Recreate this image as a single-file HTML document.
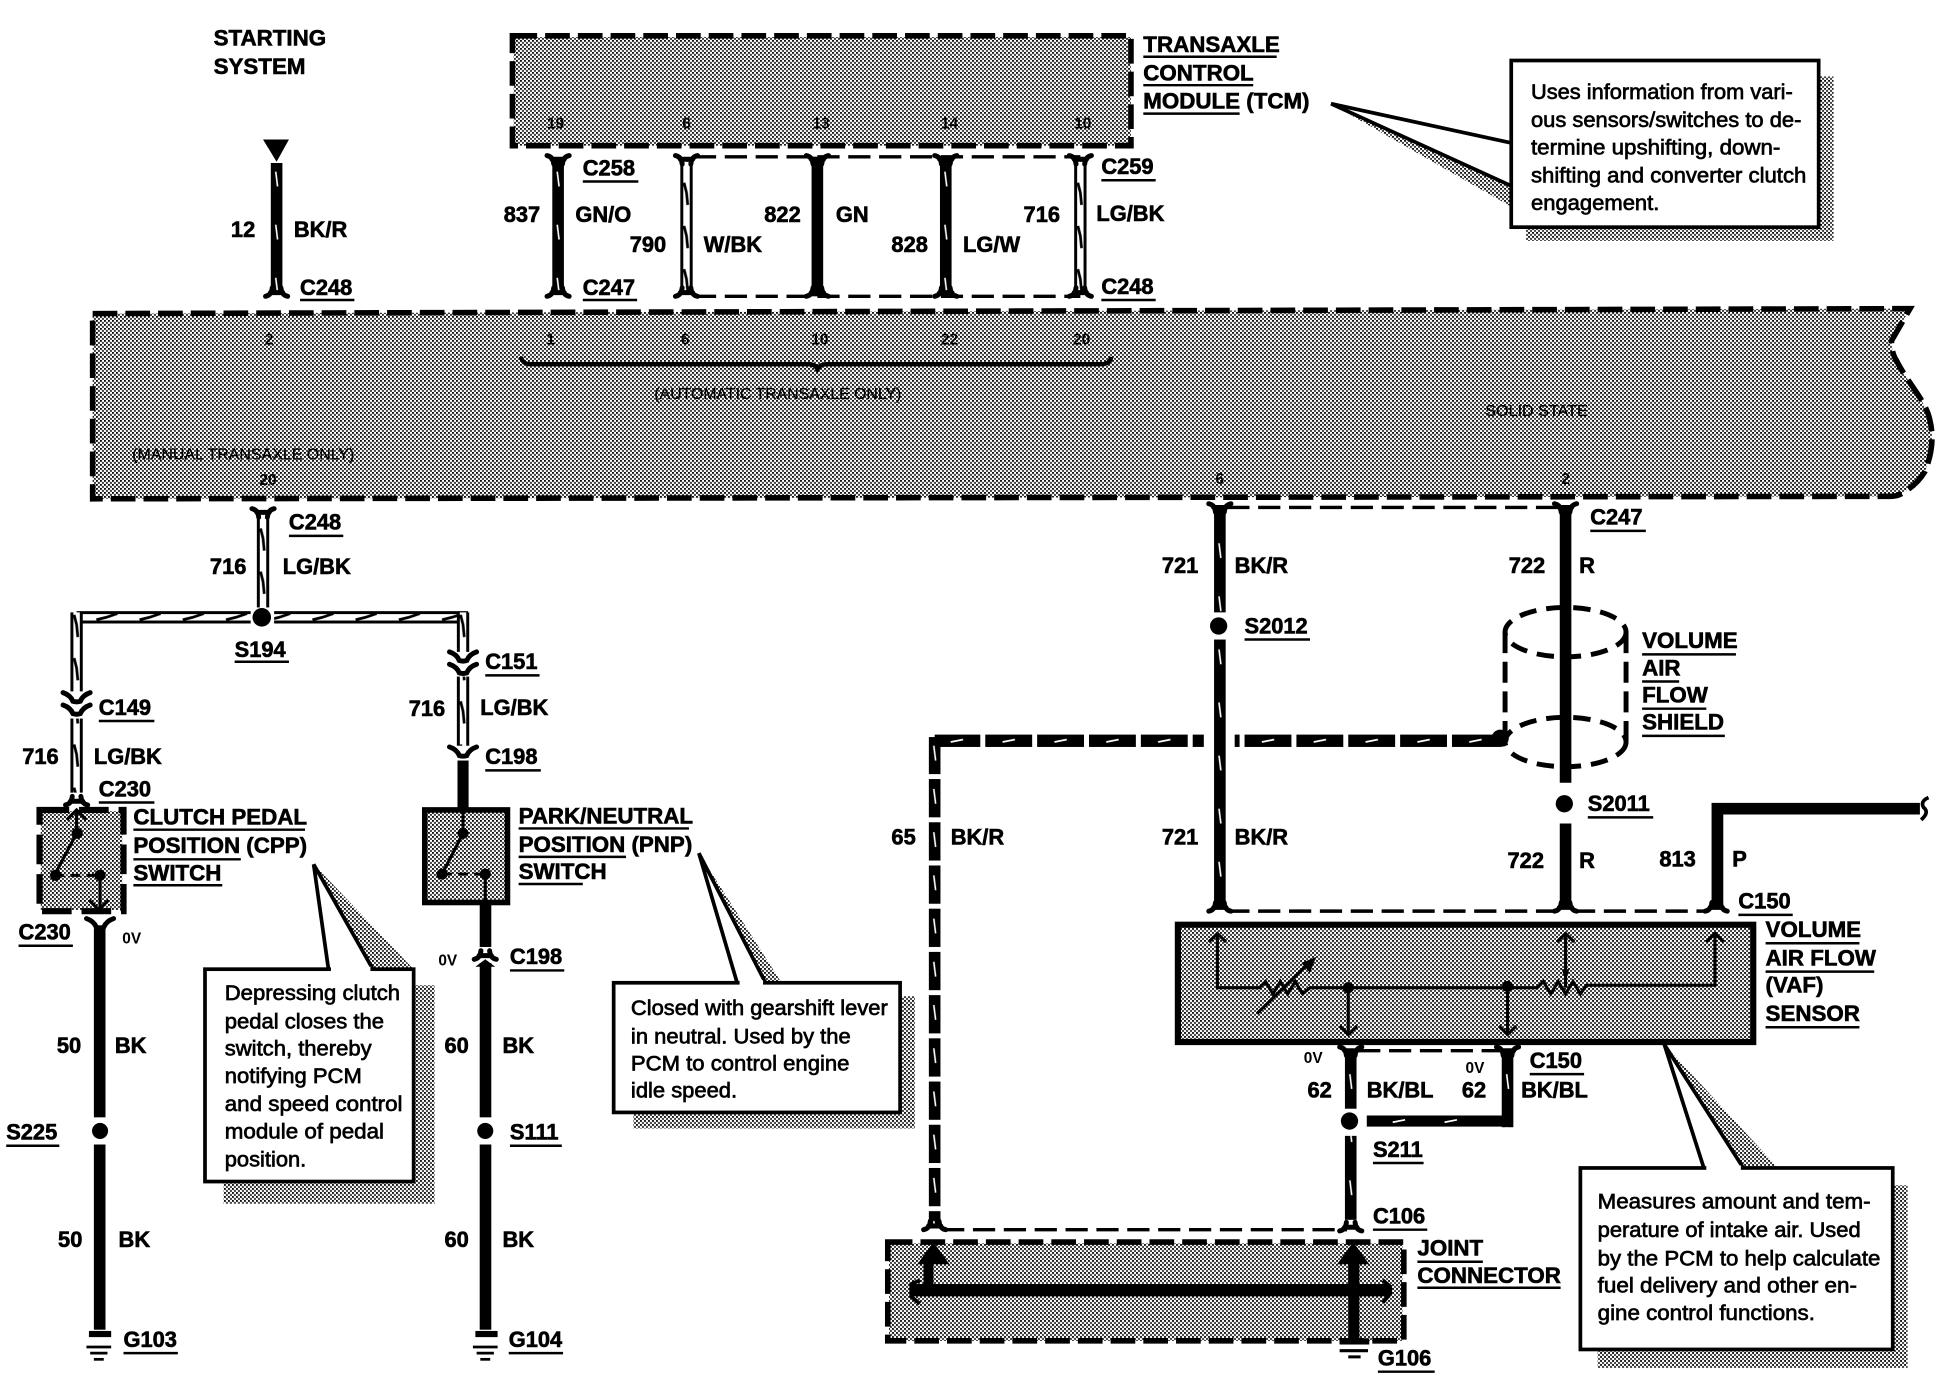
<!DOCTYPE html>
<html><head><meta charset="utf-8"><title>Starting System Diagram</title>
<style>
html,body{margin:0;padding:0;background:#fff}
svg{display:block}
text{font-family:"Liberation Sans",sans-serif;fill:#000}
.b{font-weight:bold;font-size:17.7px;stroke:#000;stroke-width:.5}
.h{font-weight:bold;font-size:18.1px;stroke:#000;stroke-width:.5}
.c{font-size:17px;stroke:#000;stroke-width:.55}
.p{font-weight:bold;font-size:12.5px;text-anchor:middle}
.s{font-size:13px;stroke:#000;stroke-width:.2}
.v{font-weight:bold;font-size:12.5px}
.u{stroke:#000;stroke-width:2;fill:none}
.l{stroke:#000;fill:none}
.d{stroke:#000;fill:none;stroke-width:2.8;stroke-dasharray:18 7}
.D{stroke:#000;fill:none;stroke-width:4.5;stroke-dasharray:20 6.5}
</style></head><body>
<svg xmlns="http://www.w3.org/2000/svg" width="1936" height="1376" viewBox="0 0 1568 1114.5">
<defs>
<pattern id="h" patternUnits="userSpaceOnUse" width="3.24" height="3.24"><rect width="3.24" height="3.24" fill="#fff"/><rect width="1.45" height="1.45" fill="#000"/><rect x="1.62" y="1.62" width="1.45" height="1.45" fill="#000"/></pattern>
<pattern id="vt" patternUnits="userSpaceOnUse" x="-4.7" y="0" width="9.4" height="43"><rect width="9.4" height="43" fill="#000"/><path d="M4,10L5.5,22" stroke="#fff" stroke-width="1.3"/></pattern>
<pattern id="vs" patternUnits="userSpaceOnUse" x="-4.7" y="1" width="9.4" height="35"><rect width="9.4" height="31" fill="#000"/><path d="M4,8L5.5,20" stroke="#fff" stroke-width="1.3"/></pattern>
<pattern id="vh" patternUnits="userSpaceOnUse" x="-5" y="0" width="10" height="35"><rect width="10" height="35" fill="#fff"/><path d="M1.2,0V35M8.8,0V35" stroke="#000" stroke-width="2.4"/><path d="M3,8L5,16L6,26" stroke="#000" stroke-width="2.2" fill="none"/></pattern>
<pattern id="ht" patternUnits="userSpaceOnUse" x="0" y="-5" width="42" height="10"><rect width="38" height="10" fill="#000"/><path d="M14,6L24,4" stroke="#fff" stroke-width="1.4"/><rect x="38" width="4" height="10" fill="#fff"/></pattern>
<pattern id="hh" patternUnits="userSpaceOnUse" x="0" y="-5" width="35" height="10"><rect width="35" height="10" fill="#fff"/><path d="M0,1.2H35M0,8.8H35" stroke="#000" stroke-width="2.4"/><path d="M8,7L16,5L25,2" stroke="#000" stroke-width="2.2" fill="none"/></pattern>
<path id="cup" d="M-9,-4Q-4,-3 -3.500,3M9,-4Q4,-3 3.500,3M-5,-1H5" stroke="#000" stroke-width="4" fill="none" stroke-linecap="round"/>
<path id="cap" d="M-9,4Q-4,3 -3.500,-3M9,4Q4,3 3.500,-3M-5,1H5" stroke="#000" stroke-width="4" fill="none" stroke-linecap="round"/>
<path id="arc" d="M-11,-5Q-5,-3 -3,2Q0,3 3,2Q5,-3 11,-5" stroke="#000" stroke-width="4" fill="none" stroke-linecap="round"/>
<g id="gnd"><path d="M-10,9H10" stroke="#000" stroke-width="2.2"/><path d="M-7,14H7" stroke="#000" stroke-width="2.2"/><path d="M-4,19H4" stroke="#000" stroke-width="2.2"/></g>
</defs>
<rect width="1568" height="1115" fill="#fff"/>

<!-- Halftone blocks -->
<rect x="416" y="30" width="500" height="88" fill="url(#h)"/>
<path d="M75,254L1547,250L1532,276Q1532,286 1536,292C1545,310 1560,325 1563,340Q1568,360 1559,382Q1553,392 1543,398Q1538,402 1531,402L75,404Z" fill="url(#h)"/>
<rect x="33" y="657" width="66" height="80" fill="url(#h)"/>
<rect x="344" y="656" width="67" height="75" fill="url(#h)"/>
<rect x="955" y="750" width="464" height="93" fill="url(#h)"/>
<rect x="720" y="1007" width="416" height="79" fill="url(#h)"/>

<!-- Boxes -->
<rect x="415" y="29" width="501" height="89" class="D"/>
<path d="M75,254L1547,250L1532,276Q1532,286 1536,292C1545,310 1560,325 1563,340Q1568,360 1559,382Q1553,392 1543,398Q1538,402 1531,402L75,404Z" class="D"/>
<rect x="32" y="656" width="68" height="82" stroke="#000" stroke-width="5" fill="none" stroke-dasharray="24 8"/>
<rect x="344" y="656" width="67" height="75" stroke="#000" stroke-width="4.5" fill="none"/>
<rect x="954" y="749" width="466" height="95" stroke="#000" stroke-width="5" fill="none"/>
<rect x="719" y="1006" width="418" height="80" class="D"/>

<!-- TCM wires -->
<path class="d" d="M562,127H875M562,240H875"/>
<g transform="translate(452,0)"><rect x="-4.700" y="130" width="9.400" height="106" fill="url(#vt)"/><use href="#cup" y="130"/><use href="#cap" y="236"/></g>
<g transform="translate(556,0)"><rect x="-5" y="130" width="10" height="106" fill="url(#vh)"/><use href="#cup" y="130"/><use href="#cap" y="236"/></g>
<rect x="657.300" y="127" width="9.400" height="113" fill="#000"/><use href="#cup" x="662" y="130"/><use href="#cap" x="662" y="236"/>
<g transform="translate(766,0)"><rect x="-4.700" y="130" width="9.400" height="106" fill="url(#vt)"/><use href="#cup" y="130"/><use href="#cap" y="236"/></g>
<g transform="translate(875,0)"><rect x="-5" y="130" width="10" height="106" fill="url(#vh)"/><use href="#cup" y="130"/><use href="#cap" y="236"/></g>

<!-- Wire 12 -->
<path d="M213,113H234L224,131Z" fill="#000"/>
<g transform="translate(224,0)"><rect x="-4.700" y="132" width="9.400" height="104" fill="url(#vt)"/><use href="#cap" y="236"/></g>

<!-- Brace -->
<path d="M422,289Q423,295 430,295H655Q660,295 662,299Q664,295 670,295H892Q899,295 900,289" stroke="#000" stroke-width="3.5" fill="none"/>

<!-- 716 LG/BK tree -->
<g transform="translate(213,0)"><rect x="-5" y="416" width="10" height="76" fill="url(#vh)"/><use href="#cup" y="416"/></g>
<g transform="translate(0,500)"><rect x="62" y="-5" width="141" height="10" fill="url(#hh)"/><rect x="222" y="-5" width="157" height="10" fill="url(#hh)"/></g>
<circle cx="212" cy="500" r="7.500" fill="#000"/>
<g transform="translate(62,0)"><rect x="-5" y="496" width="10" height="64" fill="url(#vh)"/><use href="#arc" y="566"/><use href="#arc" y="576"/><rect x="-5" y="582" width="10" height="60" fill="url(#vh)"/><use href="#cap" y="648"/></g>
<g transform="translate(375,0)"><rect x="-5" y="496" width="10" height="32" fill="url(#vh)"/><use href="#arc" y="533"/><use href="#arc" y="543"/><rect x="-5" y="548" width="10" height="56" fill="url(#vh)"/><use href="#arc" y="610"/></g>
<rect x="370.500" y="616" width="9" height="40" fill="#000"/>

<!-- CPP switch internals -->
<path class="l" stroke-width="2.500" d="M62,656V675L44,709M81,709V737M54,664L62,656L70,664M72,729L80,737L88,729"/>
<path class="l" stroke-width="2.500" stroke-dasharray="8 5" d="M44,709H81"/>
<circle cx="62.500" cy="675" r="4.500"/><circle cx="45" cy="709" r="4.500"/><circle cx="81" cy="709" r="4.500"/>
<!-- PNP switch internals -->
<path class="l" stroke-width="2.500" d="M375,656V675L358,708"/><path class="l" stroke-width="2.500" stroke-dasharray="8 5" d="M358,708H393"/><path class="l" stroke-width="2.500" d="M393,708V731"/>
<circle cx="375" cy="675" r="4.500"/><circle cx="358" cy="708" r="4.500"/><circle cx="393" cy="708" r="4.500"/>

<!-- Left grounds -->
<use href="#arc" x="81" y="749"/>
<rect x="76" y="752" width="9.400" height="153" fill="#000"/><circle cx="81" cy="916" r="6.500"/><rect x="76" y="927" width="9.400" height="150" fill="#000"/>
<rect x="72" y="1078" width="18" height="5" fill="#000"/><use href="#gnd" x="80" y="1082"/>
<rect x="388.500" y="731" width="9.400" height="36" fill="#000"/><use href="#cap" x="393" y="773"/><path d="M385,783L393,777L401,783Z" fill="#000"/>
<rect x="388.500" y="780" width="9.400" height="125" fill="#000"/><circle cx="393" cy="916" r="6.500"/><rect x="388.500" y="927" width="9.400" height="150" fill="#000"/>
<rect x="385" y="1078" width="18" height="5" fill="#000"/><use href="#gnd" x="393" y="1082"/>

<!-- Right section -->
<path class="d" d="M994,411H1262M994,738H1262M1274,738H1384"/>
<g transform="translate(988,0)"><rect x="-4.700" y="412" width="9.400" height="84" fill="url(#vt)"/><rect x="-4.700" y="518" width="9.400" height="216" fill="url(#vt)"/><use href="#cup" y="412"/><use href="#cap" y="734"/></g>
<circle cx="987" cy="507" r="7" fill="#000"/>
<rect x="1263.300" y="412" width="9.400" height="222" fill="#000"/><use href="#cup" x="1268" y="412"/>
<circle cx="1267" cy="651" r="7" fill="#000"/>
<rect x="1263.300" y="667" width="9.400" height="68" fill="#000"/><use href="#cap" x="1268" y="734"/>
<path d="M1391,735V655H1555" stroke="#000" stroke-width="9.500" fill="none"/><use href="#cap" x="1390" y="734"/>
<path d="M1562,646Q1555,649 1558,654Q1563,658 1556,664" stroke="#000" stroke-width="3" fill="none"/>

<!-- Shield -->
<g stroke="#000" stroke-width="4" fill="none" stroke-dasharray="14 8">
<ellipse cx="1268" cy="512" rx="49" ry="20"/>
<ellipse cx="1268" cy="601" rx="49" ry="20"/>
<path d="M1219,512V600M1317,512V600" stroke-dasharray="17 7"/>
</g>

<!-- Wire 65 -->
<g transform="translate(0,600)"><rect x="757" y="-5" width="218" height="10" fill="url(#ht)"/><rect x="1000" y="-5" width="214" height="10" fill="url(#ht)"/></g>
<circle cx="1215" cy="598" r="7" fill="#000"/>
<g transform="translate(757,0)"><rect x="-4.700" y="597" width="9.400" height="394" fill="url(#vs)"/><use href="#cap" y="992"/></g>
<path class="d" d="M763,996H1091"/>

<!-- VAF internals -->
<g class="l" stroke-width="2.500">
<path d="M986,756V800H1020L1025,795L1031,805L1037,795L1043,805L1049,795L1055,805L1061,800H1245L1250,795L1256,805L1262,795L1268,805L1274,795L1280,805L1285,798H1389V756"/>
<path d="M979,763L986,756L993,763M1261,763L1268,756L1275,763M1382,763L1389,756L1396,763"/>
<path d="M1268,756V800"/><path d="M1092,800V838M1221,800V838M1085,831L1092,838L1099,831M1214,831L1221,838L1228,831"/>
<path d="M1018,821L1060,780"/>
</g>
<path d="M1066,775L1054,780L1061,788Z" fill="#000"/>
<circle cx="1092" cy="800" r="4.500"/><circle cx="1221" cy="799" r="4.500"/>
<path d="M1265,785H1271L1268,795Z" fill="#000"/>

<!-- Wire 62 -->
<path class="d" d="M1100,851H1215"/>
<g transform="translate(1094,0)"><rect x="-4.700" y="852" width="9.400" height="46" fill="url(#vt)"/><rect x="-4.700" y="920" width="9.400" height="68" fill="url(#vt)"/><use href="#cup" y="852"/><use href="#cap" y="993"/></g>
<circle cx="1093" cy="908" r="7" fill="#000"/>
<g transform="translate(1221,0)"><rect x="-4.700" y="852" width="9.400" height="61" fill="url(#vt)"/><use href="#cup" y="852"/></g>
<g transform="translate(0,908)"><rect x="1107" y="-4.500" width="118" height="9" fill="#000"/><path d="M1128,1L1138,-1M1170,1L1180,-1" stroke="#fff" stroke-width="1.400"/></g>

<!-- Joint connector internals -->
<rect x="738" y="1040" width="388" height="10" fill="#000"/>
<path d="M752,1045V1020M1096,1045V1020" stroke="#000" stroke-width="8"/>
<path d="M743,1024L756,1006L769,1024Z M1083,1024L1096,1006L1109,1024Z" fill="#000"/>
<rect x="1092" y="1020" width="9" height="66" fill="#000"/>
<path d="M745,1037L738,1040V1050L745,1056M1120,1037L1126,1042V1048L1120,1055" stroke="#000" stroke-width="3" fill="none"/>
<rect x="1085" y="1084" width="24" height="5" fill="#000"/>
<path d="M1085,1094H1108M1092,1099H1102" stroke="#000" stroke-width="2.500"/>

<!-- Callouts -->
<g>
<path d="M1236,62H1485V195H1236Z" fill="url(#h)"/><path d="M1078,84L1225,151V168Z" fill="url(#h)"/>
<path d="M1078,84L1225,116V151Z" fill="#fff"/>
<path d="M1078,84L1225,116M1078,84L1225,151" stroke="#000" stroke-width="3"/>
<rect x="1224" y="49" width="249" height="135" fill="#fff" stroke="#000" stroke-width="3"/>
<text class="c" x="1240" y="80" textLength="212" lengthAdjust="spacingAndGlyphs">Uses information from vari-</text>
<text class="c" x="1240" y="103" textLength="219" lengthAdjust="spacingAndGlyphs">ous sensors/switches to de-</text>
<text class="c" x="1240" y="125" textLength="202" lengthAdjust="spacingAndGlyphs">termine upshifting, down-</text>
<text class="c" x="1240" y="148" textLength="223" lengthAdjust="spacingAndGlyphs">shifting and converter clutch</text>
<text class="c" x="1240" y="170" textLength="104" lengthAdjust="spacingAndGlyphs">engagement.</text>
</g>
<g>
<rect x="181" y="798" width="171" height="177" fill="url(#h)"/><path d="M254,700L335,785H302Z" fill="url(#h)"/>
<path d="M254,700L266,785M254,700L302,785" stroke="#000" stroke-width="3"/>
<rect x="166" y="785" width="169" height="172" fill="#fff" stroke="#000" stroke-width="3"/>
<path d="M268,785H300" stroke="#fff" stroke-width="4"/>
<text class="c" x="182" y="810" textLength="142" lengthAdjust="spacingAndGlyphs">Depressing clutch</text>
<text class="c" x="182" y="833" textLength="129" lengthAdjust="spacingAndGlyphs">pedal closes the</text>
<text class="c" x="182" y="855" textLength="119" lengthAdjust="spacingAndGlyphs">switch, thereby</text>
<text class="c" x="182" y="877" textLength="111" lengthAdjust="spacingAndGlyphs">notifying PCM</text>
<text class="c" x="182" y="900" textLength="144" lengthAdjust="spacingAndGlyphs">and speed control</text>
<text class="c" x="182" y="922" textLength="129" lengthAdjust="spacingAndGlyphs">module of pedal</text>
<text class="c" x="182" y="945" textLength="66" lengthAdjust="spacingAndGlyphs">position.</text>
</g>
<g>
<rect x="513" y="807" width="228" height="107" fill="url(#h)"/><path d="M566,691L633,796H620Z" fill="url(#h)"/>
<path d="M566,691L597,796M566,691L620,796" stroke="#000" stroke-width="3"/>
<rect x="497" y="796" width="232" height="105" fill="#fff" stroke="#000" stroke-width="3"/>
<path d="M599,796H618" stroke="#fff" stroke-width="4"/>
<text class="c" x="511" y="822" textLength="208" lengthAdjust="spacingAndGlyphs">Closed with gearshift lever</text>
<text class="c" x="511" y="845" textLength="178" lengthAdjust="spacingAndGlyphs">in neutral. Used by the</text>
<text class="c" x="511" y="867" textLength="177" lengthAdjust="spacingAndGlyphs">PCM to control engine</text>
<text class="c" x="511" y="889" textLength="86" lengthAdjust="spacingAndGlyphs">idle speed.</text>
</g>
<g>
<rect x="1294" y="960" width="251" height="148" fill="url(#h)"/><path d="M1348,846L1440,946H1412Z" fill="url(#h)"/>
<path d="M1348,846L1380,946M1348,846L1412,946" stroke="#000" stroke-width="3"/>
<rect x="1280" y="946" width="253" height="147" fill="#fff" stroke="#000" stroke-width="3"/>
<path d="M1382,946H1410" stroke="#fff" stroke-width="4"/>
<text class="c" x="1294" y="979" textLength="221" lengthAdjust="spacingAndGlyphs">Measures amount and tem-</text>
<text class="c" x="1294" y="1002" textLength="213" lengthAdjust="spacingAndGlyphs">perature of intake air. Used</text>
<text class="c" x="1294" y="1025" textLength="229" lengthAdjust="spacingAndGlyphs">by the PCM to help calculate</text>
<text class="c" x="1294" y="1047" textLength="210" lengthAdjust="spacingAndGlyphs">fuel delivery and other en-</text>
<text class="c" x="1294" y="1069" textLength="176" lengthAdjust="spacingAndGlyphs">gine control functions.</text>
</g>

<!-- Pin numbers -->
<text class="p" x="450" y="104">19</text><text class="p" x="556" y="104">6</text><text class="p" x="665" y="104">13</text><text class="p" x="769" y="104">14</text><text class="p" x="877" y="104">10</text>
<text class="p" x="218" y="279">2</text><text class="p" x="446" y="279">1</text><text class="p" x="555" y="279">6</text><text class="p" x="664" y="279">10</text><text class="p" x="769" y="279">22</text><text class="p" x="876" y="279">20</text>
<text class="p" x="217" y="393">20</text><text class="p" x="988" y="392">6</text><text class="p" x="1268" y="392">2</text>
<text class="s" x="530" y="323" textLength="200" lengthAdjust="spacingAndGlyphs">(AUTOMATIC TRANSAXLE ONLY)</text>
<text class="s" x="1203" y="337" textLength="83" lengthAdjust="spacingAndGlyphs">SOLID STATE</text>
<text class="s" x="107" y="372" textLength="180" lengthAdjust="spacingAndGlyphs">(MANUAL TRANSAXLE ONLY)</text>

<!-- Labels -->
<g>
<text class="h" x="173" y="37">STARTING</text><text class="h" x="173" y="60">SYSTEM</text>
<text class="h" x="926" y="42">TRANSAXLE</text><text class="h" x="926" y="65">CONTROL</text><text class="h" x="926" y="88">MODULE (TCM)</text>
<text class="b" x="472" y="142">C258</text><text class="b" x="892" y="141">C259</text>
<text class="b" x="187" y="192">12</text><text class="b" x="238" y="192">BK/R</text>
<text class="b" x="408" y="180">837</text><text class="b" x="466" y="180">GN/O</text>
<text class="b" x="510" y="204">790</text><text class="b" x="570" y="204">W/BK</text>
<text class="b" x="619" y="180">822</text><text class="b" x="677" y="180">GN</text>
<text class="b" x="722" y="204">828</text><text class="b" x="780" y="204">LG/W</text>
<text class="b" x="829" y="180">716</text><text class="b" x="888" y="179">LG/BK</text>
<text class="b" x="243" y="239">C248</text><text class="b" x="472" y="239">C247</text><text class="b" x="892" y="238">C248</text>
<text class="b" x="234" y="429">C248</text><text class="b" x="170" y="465">716</text><text class="b" x="229" y="465">LG/BK</text>
<text class="b" x="190" y="532">S194</text>
<text class="b" x="80" y="579">C149</text><text class="b" x="18" y="619">716</text><text class="b" x="76" y="619">LG/BK</text><text class="b" x="80" y="645">C230</text>
<text class="b" x="393" y="542">C151</text><text class="b" x="331" y="580">716</text><text class="b" x="389" y="579">LG/BK</text><text class="b" x="393" y="619">C198</text>
<text class="h" x="108" y="668">CLUTCH PEDAL</text><text class="h" x="108" y="691">POSITION (CPP)</text><text class="h" x="108" y="713">SWITCH</text>
<text class="h" x="420" y="667">PARK/NEUTRAL</text><text class="h" x="420" y="690">POSITION (PNP)</text><text class="h" x="420" y="712">SWITCH</text>
<text class="b" x="15" y="761">C230</text><text class="v" x="99" y="764">0V</text>
<text class="v" x="355" y="782">0V</text><text class="b" x="413" y="781">C198</text>
<text class="b" x="46" y="853">50</text><text class="b" x="93" y="853">BK</text><text class="b" x="5" y="923">S225</text><text class="b" x="47" y="1010">50</text><text class="b" x="96" y="1010">BK</text><text class="b" x="100" y="1091">G103</text>
<text class="b" x="360" y="853">60</text><text class="b" x="407" y="853">BK</text><text class="b" x="413" y="923">S111</text><text class="b" x="360" y="1010">60</text><text class="b" x="407" y="1010">BK</text><text class="b" x="412" y="1091">G104</text>
<text class="b" x="941" y="464">721</text><text class="b" x="1000" y="464">BK/R</text><text class="b" x="1222" y="464">722</text><text class="b" x="1279" y="464">R</text>
<text class="b" x="1288" y="425">C247</text><text class="b" x="1008" y="513">S2012</text><text class="b" x="1286" y="657">S2011</text>
<text class="b" x="941" y="684">721</text><text class="b" x="1000" y="684">BK/R</text><text class="b" x="1221" y="703">722</text><text class="b" x="1279" y="703">R</text><text class="b" x="1344" y="702">813</text><text class="b" x="1403" y="702">P</text>
<text class="b" x="722" y="684">65</text><text class="b" x="770" y="684">BK/R</text>
<text class="b" x="1408" y="736">C150</text>
<text class="h" x="1330" y="525">VOLUME</text><text class="h" x="1330" y="547">AIR</text><text class="h" x="1330" y="569">FLOW</text><text class="h" x="1330" y="591">SHIELD</text>
<text class="h" x="1430" y="759">VOLUME</text><text class="h" x="1430" y="782">AIR FLOW</text><text class="h" x="1430" y="804">(VAF)</text><text class="h" x="1430" y="827">SENSOR</text>
<text class="v" x="1056" y="861">0V</text><text class="b" x="1059" y="889">62</text><text class="b" x="1107" y="889">BK/BL</text>
<text class="v" x="1187" y="869">0V</text><text class="b" x="1184" y="889">62</text><text class="b" x="1232" y="889">BK/BL</text><text class="b" x="1239" y="865">C150</text>
<text class="b" x="1112" y="937">S211</text><text class="b" x="1112" y="991">C106</text><text class="h" x="1148" y="1017">JOINT</text><text class="h" x="1148" y="1039">CONNECTOR</text><text class="b" x="1116" y="1106">G106</text>
</g>

<!-- Underlines -->
<path class="u" d="M926,46H1034M926,69H1015M926,92H1004M472,147H517M892,146H936M243,243H287M472,243H516M892,243H936M234,434H278M190,536H234M80,584H125M80,650H125M393,547H437M393,624H438M108,672H247M108,696H195M108,717H180M420,671H558M420,694H507M420,716H472M15,766H59M413,786H457M5,928H48M100,1096H144M413,928H455M412,1096H456M1288,430H1333M1008,518H1061M1286,662H1339M1408,741H1452M1330,530H1406M1330,552H1360M1330,574H1382M1330,596H1397M1430,764H1506M1430,787H1518M1430,832H1506M1239,870H1283M1112,942H1153M1112,996H1156M1148,1022H1201M1148,1043H1264M1116,1111H1162"/>
</svg>
</body></html>
